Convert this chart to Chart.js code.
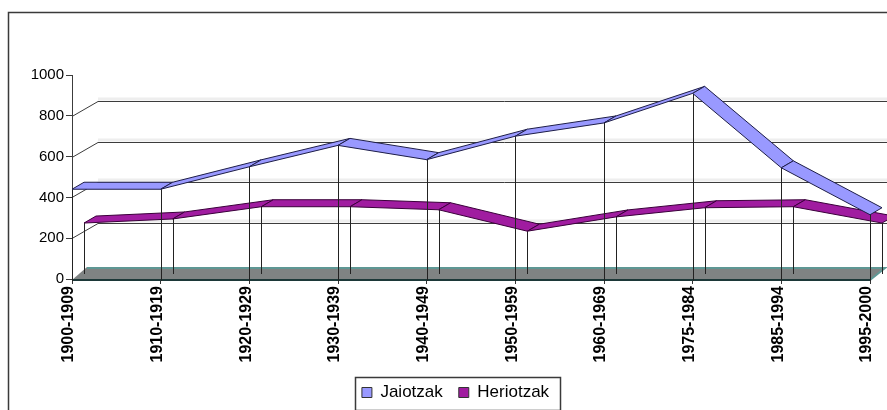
<!DOCTYPE html>
<html>
<head>
<meta charset="utf-8">
<script src="https://cdn.jsdelivr.net/npm/chart.js@4.4.1/dist/chart.umd.min.js"></script>
<style>
html, body { margin: 0; padding: 0; overflow: hidden; background: #fff; }
#wrap { width: 911px; height: 425px; }
</style>
</head>
<body>
<div id="wrap"><canvas id="chart" width="911" height="425"></canvas></div>
<script>
'use strict'
//hamarkadak
const categories = ['1900-1909', '1910-1919', '1920-1929', '1930-1939', '1940-1949',
                    '1950-1959', '1960-1969', '1975-1984', '1985-1994', '1995-2000'];
//jaiotzak
const jaiotzak = [440, 440, 550, 655, 585, 700, 765, 910, 545, 315];
//heriotzak
const heriotzak = [240, 260, 320, 320, 305, 200, 270, 315, 320, 240];
//ardatz balioak
const yTicks = [0, 200, 400, 600, 800, 1000];

const chartCanvas = document.querySelector('#chart');

//atzeko hormaren sakonera
const WALL_DX = 26, WALL_DY = 15;
//serie bakoitzaren zinta sakonera
const ROW_DX = 12, ROW_DY = 7;
const FONT = "'Liberation Sans', Arial, sans-serif";

const ribbonEdge = ['#1e1e48', '#3a003a'];

//==================================================================================================

//3D itxurako hormak, zoruak eta zintak
const plot3d = {
    id: 'plot3d',
    beforeDraw(chart){
        const ctx = chart.ctx;
        ctx.save();
        ctx.fillStyle = '#fff';
        ctx.fillRect(0, 0, chart.width, chart.height);
        //kanpoko markoa
        ctx.strokeStyle = '#3a3a3a';
        ctx.lineWidth = 1.5;
        ctx.strokeRect(8.5, 12.5, chart.width + 20, chart.height + 20);
        ctx.restore();
    },
    beforeDatasetsDraw(chart){
        const ctx = chart.ctx;
        const area = chart.chartArea;
        const y = chart.scales.y;
        ctx.save();
        //atzeko horma lerroak
        yTicks.slice(0, -1).forEach((v) => {
            if(v === 0)
                return;
            const py = Math.round(y.getPixelForValue(v)) + 0.5;
            ctx.fillStyle = '#eeeeee';
            ctx.fillRect(area.left + WALL_DX, py - WALL_DY - 4, chart.width, 3);
            ctx.strokeStyle = '#3c3c3c';
            ctx.lineWidth = 1;
            ctx.beginPath();
            ctx.moveTo(area.left, py);
            ctx.lineTo(area.left + WALL_DX, py - WALL_DY);
            ctx.lineTo(chart.width, py - WALL_DY);
            ctx.stroke();
        });
        //zorua
        const fy = y.getPixelForValue(0) + 1;
        ctx.beginPath();
        ctx.moveTo(area.left, fy);
        ctx.lineTo(area.left + 15, fy - 13);
        ctx.lineTo(area.right + 15, fy - 13);
        ctx.lineTo(area.right, fy);
        ctx.closePath();
        ctx.fillStyle = '#7f8383';
        ctx.fill();
        ctx.strokeStyle = '#5e9794';
        ctx.lineWidth = 2;
        ctx.beginPath();
        ctx.moveTo(area.left + 15, fy - 12);
        ctx.lineTo(area.right + 15, fy - 12);
        ctx.lineTo(area.right, fy);
        ctx.stroke();
        ctx.strokeStyle = '#1c3838';
        ctx.beginPath();
        ctx.moveTo(area.left, fy);
        ctx.lineTo(area.right, fy);
        ctx.stroke();
        ctx.restore();
    },
    afterDatasetsDraw(chart){
        const ctx = chart.ctx;
        const y = chart.scales.y;
        ctx.save();
        //atzekoa lehenago
        for(let s = chart.data.datasets.length - 1; s >= 0; s--){
            const meta = chart.getDatasetMeta(s);
            const ds = chart.data.datasets[s];
            const base = y.getPixelForValue(0) - s * ROW_DY;
            const pts = meta.data.map((p) => ({ x: p.x + s * ROW_DX, y: p.y - s * ROW_DY }));
            //lerro bertikalak
            ctx.strokeStyle = '#222';
            ctx.lineWidth = 1;
            pts.forEach((p) => {
                const px = Math.round(p.x) + 0.5;
                ctx.beginPath();
                ctx.moveTo(px, p.y);
                ctx.lineTo(px, base + 2);
                ctx.stroke();
            });
            //zinta
            for(let i = 0; i < pts.length - 1; i++){
                const a = pts[i], b = pts[i + 1];
                ctx.beginPath();
                ctx.moveTo(a.x, a.y);
                ctx.lineTo(b.x, b.y);
                ctx.lineTo(b.x + ROW_DX, b.y - ROW_DY);
                ctx.lineTo(a.x + ROW_DX, a.y - ROW_DY);
                ctx.closePath();
                ctx.fillStyle = ds.backgroundColor;
                ctx.fill();
                ctx.strokeStyle = ribbonEdge[s];
                ctx.lineWidth = 1;
                ctx.stroke();
            }
        }
        ctx.restore();
    },
    afterDraw(chart){
        //legendaren markoa
        const legend = chart.legend;
        const boxes = legend.legendHitBoxes;
        if(!boxes || boxes.length == 0)
            return;
        const first = boxes[0], last = boxes[boxes.length - 1];
        const cy = first.top + first.height / 2;
        const ctx = chart.ctx;
        ctx.save();
        ctx.strokeStyle = '#3a3a3a';
        ctx.lineWidth = 1.5;
        ctx.strokeRect(Math.round(first.left - 7) + 0.5, Math.round(cy - 16) + 0.5,
                       Math.round(last.left + last.width + 11 - (first.left - 7)), 33);
        ctx.restore();
    }
};

//==================================================================================================

new Chart(chartCanvas, {
    type: 'line',
    data: {
        labels: categories,
        datasets: [
            {
                label: 'Jaiotzak',
                data: jaiotzak,
                showLine: false,
                pointRadius: 0,
                backgroundColor: '#9999ff',
                borderColor: '#333',
                borderWidth: 1
            },
            {
                label: 'Heriotzak',
                data: heriotzak,
                showLine: false,
                pointRadius: 0,
                backgroundColor: '#a01ca0',
                borderColor: '#333',
                borderWidth: 1
            }
        ]
    },
    options: {
        responsive: false,
        animation: false,
        layout: { padding: { top: 75, bottom: 14, left: 0, right: 0 } },
        plugins: {
            tooltip: { enabled: false },
            legend: {
                position: 'bottom',
                labels: {
                    boxWidth: 10,
                    boxHeight: 10,
                    padding: 16,
                    color: '#000',
                    font: { family: FONT, size: 17 }
                }
            }
        },
        scales: {
            x: {
                type: 'category',
                offset: false,
                grid: { drawOnChartArea: false, tickLength: 5, color: '#333' },
                border: { display: false },
                ticks: {
                    minRotation: 90,
                    maxRotation: 90,
                    padding: 2,
                    labelOffset: -3,
                    autoSkip: false,
                    color: '#000',
                    font: { family: FONT, size: 16, weight: 'bold' }
                },
                afterFit(scale){ scale.height = 89; }
            },
            y: {
                min: 0,
                max: 1000,
                grid: { drawOnChartArea: false, tickLength: 6, color: '#3c3c3c' },
                border: { display: true, color: '#3c3c3c', width: 1 },
                ticks: {
                    padding: 2,
                    color: '#000',
                    font: { family: FONT, size: 15 },
                    callback: (v) => String(v)
                },
                afterBuildTicks(scale){ scale.ticks = yTicks.map((v) => ({ value: v })); },
                afterFit(scale){ scale.width = 72; }
            },
            //eskuineko tartea
            yRight: {
                position: 'right',
                display: true,
                grid: { display: false },
                border: { display: false },
                ticks: { display: false },
                afterFit(scale){ scale.width = 41; }
            }
        }
    },
    plugins: [plot3d]
});
</script>
</body>
</html>
